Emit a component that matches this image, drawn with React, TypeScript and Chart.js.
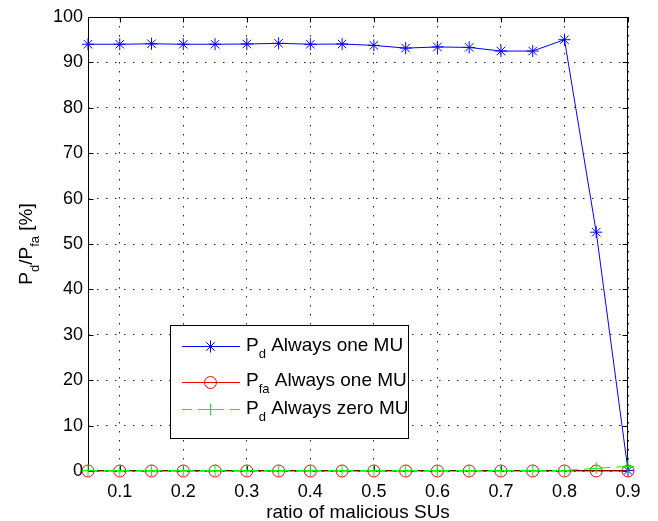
import React, { useEffect, useRef } from 'react';
import { Chart, registerables } from 'chart.js';

Chart.register(...registerables);

const X_VALUES = [0.05, 0.1, 0.15, 0.2, 0.25, 0.3, 0.35, 0.4, 0.45, 0.5, 0.55, 0.6, 0.65, 0.7, 0.75, 0.8, 0.85, 0.9];
const PD_ONE_MU = [94.0, 94.0, 94.1, 94.0, 94.0, 94.05, 94.2, 94.0, 94.05, 93.75, 93.15, 93.4, 93.3, 92.5, 92.5, 95.0, 52.6, 0.1];
const PFA_ONE_MU = [0, 0, 0, 0, 0, 0, 0, 0, 0, 0, 0, 0, 0, 0, 0, 0, 0, 0];
const PD_ZERO_MU = [0.1, 0.1, 0.1, 0.1, 0.1, 0.1, 0.1, 0.1, 0.1, 0.1, 0.1, 0.1, 0.1, 0.1, 0.1, 0.1, 0.6, 1.0];
const X_TICKS = [0.1, 0.2, 0.3, 0.4, 0.5, 0.6, 0.7, 0.8, 0.9];
const Y_TICKS = [0, 10, 20, 30, 40, 50, 60, 70, 80, 90, 100];
const X_TITLE = 'ratio of malicious SUs';

type Part = { t: string; sub?: boolean };
const Y_TITLE: Part[] = [{ t: 'P' }, { t: 'd', sub: true }, { t: '/P' }, { t: 'fa', sub: true }, { t: ' [%]' }];
const LEGEND_LABELS: Part[][] = [
  [{ t: 'P' }, { t: 'd', sub: true }, { t: ' Always one MU' }],
  [{ t: 'P' }, { t: 'fa', sub: true }, { t: ' Always one MU' }],
  [{ t: 'P' }, { t: 'd', sub: true }, { t: ' Always zero MU' }],
];

const FONT = '"Liberation Sans", Arial, sans-serif';
const MAIN_FONT = `19px ${FONT}`;
const SUB_FONT = `13px ${FONT}`;
const SUB_OFFSET = 7;

function measureRich(ctx: CanvasRenderingContext2D, parts: Part[]) {
  let w = 0;
  for (const p of parts) {
    ctx.font = p.sub ? SUB_FONT : MAIN_FONT;
    w += ctx.measureText(p.t).width;
  }
  return w;
}

function drawRich(ctx: CanvasRenderingContext2D, parts: Part[], x: number, y: number) {
  ctx.textAlign = 'left';
  ctx.textBaseline = 'alphabetic';
  ctx.fillStyle = '#000';
  let cx = x;
  for (const p of parts) {
    ctx.font = p.sub ? SUB_FONT : MAIN_FONT;
    ctx.fillText(p.t, cx, y + (p.sub ? SUB_OFFSET : 0));
    cx += ctx.measureText(p.t).width;
  }
}

function drawMarker(ctx: CanvasRenderingContext2D, style: string, x: number, y: number, r: number, color: string) {
  ctx.save();
  ctx.strokeStyle = color;
  ctx.lineWidth = 1;
  ctx.setLineDash([]);
  ctx.beginPath();
  if (style === 'circle') {
    ctx.arc(x, y, r, 0, Math.PI * 2);
  } else {
    ctx.moveTo(x - r, y); ctx.lineTo(x + r, y);
    ctx.moveTo(x, y - r); ctx.lineTo(x, y + r);
    if (style === 'star') {
      const d = r * Math.SQRT1_2;
      ctx.moveTo(x - d, y - d); ctx.lineTo(x + d, y + d);
      ctx.moveTo(x - d, y + d); ctx.lineTo(x + d, y - d);
    }
  }
  ctx.stroke();
  ctx.restore();
}

const SERIES_STYLE = [
  { color: '#0000ff', point: 'star', dash: [] as number[] },
  { color: '#ff0000', point: 'circle', dash: [] as number[] },
  { color: '#00ff00', point: 'cross', dash: [10, 6] },
];

const framePlugin = {
  id: 'matlabFrame',
  beforeDatasetsDraw(chart: any) {
    const { ctx, chartArea: a, scales } = chart;
    ctx.save();
    ctx.strokeStyle = '#000';
    ctx.lineWidth = 1;
    ctx.setLineDash([]);
    const L = Math.round(a.left) + 0.5;
    const R = Math.round(a.right) - 0.5;
    const T = Math.round(a.top) + 0.5;
    const B = Math.round(a.bottom) - 0.5;
    const tl = 5;
    ctx.beginPath();
    for (const v of X_TICKS) {
      const px = Math.round(scales.x.getPixelForValue(v)) + 0.5;
      ctx.moveTo(px, B); ctx.lineTo(px, B - tl);
      ctx.moveTo(px, T); ctx.lineTo(px, T + tl);
    }
    for (const v of Y_TICKS) {
      const py = Math.round(scales.y.getPixelForValue(v)) + 0.5;
      ctx.moveTo(L, py); ctx.lineTo(L + tl, py);
      ctx.moveTo(R, py); ctx.lineTo(R - tl, py);
    }
    ctx.stroke();
    ctx.strokeRect(L, T, R - L, B - T);
    ctx.restore();
  },
  afterDraw(chart: any) {
    const { ctx, chartArea: a } = chart;
    ctx.save();
    // x title
    ctx.font = MAIN_FONT;
    ctx.fillStyle = '#000';
    ctx.textAlign = 'center';
    ctx.textBaseline = 'alphabetic';
    ctx.fillText(X_TITLE, (a.left + a.right) / 2, 518);
    // y title
    const w = measureRich(ctx, Y_TITLE);
    ctx.save();
    ctx.translate(32, 244);
    ctx.rotate(-Math.PI / 2);
    drawRich(ctx, Y_TITLE, -w / 2, 0);
    ctx.restore();
    // legend
    const bx = 170.5, by = 325.5, bw = 238, bh = 113;
    ctx.fillStyle = '#fff';
    ctx.fillRect(bx, by, bw, bh);
    ctx.strokeStyle = '#000';
    ctx.lineWidth = 1;
    ctx.setLineDash([]);
    ctx.strokeRect(bx, by, bw, bh);
    const lineYs = [346, 382, 409];
    const baseYs = [351, 386, 414];
    LEGEND_LABELS.forEach((lab, i) => {
      const s = SERIES_STYLE[i];
      const ly = lineYs[i] + 0.5;
      ctx.save();
      ctx.strokeStyle = s.color;
      ctx.lineWidth = 1;
      ctx.setLineDash(s.dash);
      ctx.beginPath();
      ctx.moveTo(182, ly);
      ctx.lineTo(240, ly);
      ctx.stroke();
      ctx.restore();
      drawMarker(ctx, s.point, 210.5, ly, 6, s.color);
      drawRich(ctx, lab, 246, baseYs[i]);
    });
    ctx.restore();
  },
};

export default function App() {
  const ref = useRef<HTMLCanvasElement | null>(null);
  useEffect(() => {
    if (!ref.current) return;
    const series = [PD_ONE_MU, PFA_ONE_MU, PD_ZERO_MU];
    const datasets = series.map((vals, i) => {
      const s = SERIES_STYLE[i];
      return {
        label: String(i),
        data: X_VALUES.map((x, j) => ({ x, y: vals[j] })),
        borderColor: s.color,
        backgroundColor: 'transparent',
        borderWidth: 1,
        borderDash: s.dash,
        pointStyle: s.point,
        pointRadius: 6,
        pointBorderColor: s.color,
        pointBackgroundColor: 'transparent',
        pointBorderWidth: 1,
        tension: 0,
        clip: false as any,
        order: 2 - i,
      };
    });
    const chart = new Chart(ref.current, {
      type: 'line',
      data: { datasets: datasets as any },
      options: {
        animation: false,
        responsive: false,
        events: [],
        layout: { padding: { top: 17, right: 30, left: 0, bottom: 0 } },
        plugins: { legend: { display: false }, tooltip: { enabled: false } },
        scales: {
          x: {
            type: 'linear',
            min: 0.05,
            max: 0.9,
            afterBuildTicks: (scale: any) => { scale.ticks = X_TICKS.map((v) => ({ value: v })); },
            afterFit: (scale: any) => { scale.height = 50; },
            ticks: {
              font: { family: FONT, size: 18 },
              color: '#000',
              padding: 10,
              maxRotation: 0,
              autoSkip: false,
              callback: (v: any) => String(Number(v).toFixed(1)),
            },
            grid: { color: 'rgba(0,0,0,0.85)', drawTicks: false, lineWidth: 1 },
            border: { display: false, dash: [1.5, 7.5] },
          },
          y: {
            type: 'linear',
            min: 0,
            max: 100,
            afterBuildTicks: (scale: any) => { scale.ticks = Y_TICKS.map((v) => ({ value: v })); },
            afterFit: (scale: any) => { scale.width = 88; },
            ticks: {
              font: { family: FONT, size: 18 },
              color: '#000',
              padding: 5,
              autoSkip: false,
              callback: (v: any) => String(v),
            },
            grid: { color: 'rgba(0,0,0,0.85)', drawTicks: false, lineWidth: 1 },
            border: { display: false, dash: [1.5, 7.5] },
          },
        },
      },
      plugins: [framePlugin],
    });
    return () => chart.destroy();
  }, []);
  return (
    <div style={{ position: 'absolute', left: 0, top: 0, width: 658, height: 521, background: '#fff' }}>
      <canvas ref={ref} width={658} height={521} style={{ display: 'block', width: 658, height: 521 }} />
    </div>
  );
}
